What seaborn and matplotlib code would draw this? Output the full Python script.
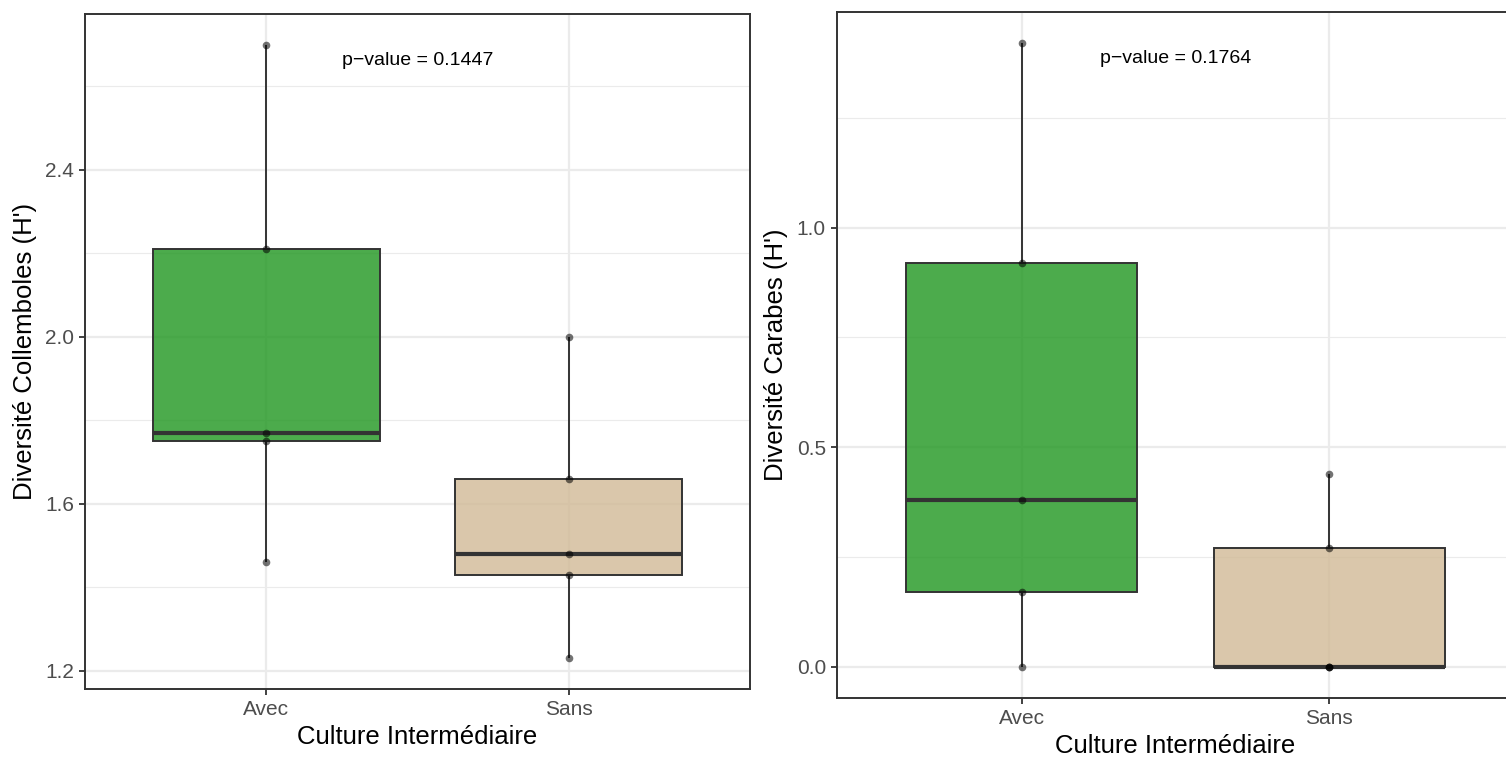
import numpy as np
import pandas as pd
import matplotlib
matplotlib.use("Agg")
import matplotlib.pyplot as plt
import seaborn as sns
from matplotlib.colors import to_rgba
from matplotlib.ticker import MultipleLocator

# ---------------------------------------------------------------
# data
# ---------------------------------------------------------------
categories = ["Avec", "Sans"]
colle_avec = [2.70, 2.21, 1.77, 1.75, 1.46]
colle_sans = [2.00, 1.66, 1.48, 1.43, 1.23]
carab_avec = [1.42, 0.92, 0.38, 0.17, 0.00]
carab_sans = [0.44, 0.27, 0.00, 0.00, 0.00]
pvals = ["0.1447", "0.1764"]
ylabels = ["Diversité Collemboles (H')", "Diversité Carabes (H')"]
xlabel = "Culture Intermédiaire"

fill_colors = {"Avec": "#1F961F", "Sans": "#D1BA96"}

sns.set_style("white")
plt.rcParams["font.family"] = ["Liberation Sans", "DejaVu Sans"]

W, H = 1506, 757
fig = plt.figure(figsize=(W / 100, H / 100), dpi=100)

# axes boxes in pixels: left, top, right, bottom
boxes = [(85, 14, 750, 689), (837, 12, 1514, 698)]


def make_df(a, b):
    return pd.DataFrame({
        "culture": [categories[0]] * len(a) + [categories[1]] * len(b),
        "val": list(a) + list(b),
    })


panels = [
    (make_df(colle_avec, colle_sans), (1.1565, 2.7735), 0.4, 0.2, 2.663),
    (make_df(carab_avec, carab_sans), (-0.071, 1.491), 0.5, 0.25, 1.384),
]

for i, (df, ylim, major, minor, ytxt) in enumerate(panels):
    l, t, r, b = boxes[i]
    ax = fig.add_axes([l / W, 1 - b / H, (r - l) / W, (b - t) / H])
    ax.set_axisbelow(True)

    sns.boxplot(data=df, x="culture", y="val", hue="culture", order=categories,
                palette=fill_colors, saturation=1, width=0.75, whis=(0, 100),
                showfliers=False, showcaps=False, linecolor="#333333", linewidth=1.4,
                medianprops={"linewidth": 3.0, "color": "#333333"},
                legend=False, ax=ax)
    for p in ax.patches:
        fc = p.get_facecolor()
        p.set_facecolor(to_rgba(fc[:3], 0.8))
        p.set_zorder(2)
    for ln in ax.lines:
        ln.set_zorder(3)

    sns.stripplot(data=df, x="culture", y="val", order=categories, jitter=False,
                  color="black", alpha=0.55, size=5.5, linewidth=0, zorder=4, ax=ax)

    ax.set_xlim(-0.6, 1.6)
    ax.set_ylim(*ylim)
    ax.yaxis.set_major_locator(MultipleLocator(major))
    ax.yaxis.set_minor_locator(MultipleLocator(minor))
    ax.yaxis.set_major_formatter(matplotlib.ticker.FormatStrFormatter("%.1f"))

    ax.grid(which="major", color="#EBEBEB", linewidth=1.6)
    ax.grid(which="minor", axis="y", color="#EBEBEB", linewidth=0.8)

    for s in ax.spines.values():
        s.set_color("#333333")
        s.set_linewidth(1.4)

    ax.tick_params(which="major", bottom=True, left=True, length=4.5, width=1.3,
                   color="#333333", labelsize=15, labelcolor="#4D4D4D", pad=3.5,
                   direction="out")
    ax.tick_params(which="minor", length=0)

    ax.set_xlabel(xlabel, fontsize=18.5, color="black", labelpad=4)
    ax.set_ylabel(ylabels[i], fontsize=18.5, color="black", labelpad=6)

    ax.text(0.5, ytxt, "p\u2212value = " + pvals[i], ha="center", va="center",
            fontsize=14, color="black")

fig.savefig("out.png", dpi=100)
